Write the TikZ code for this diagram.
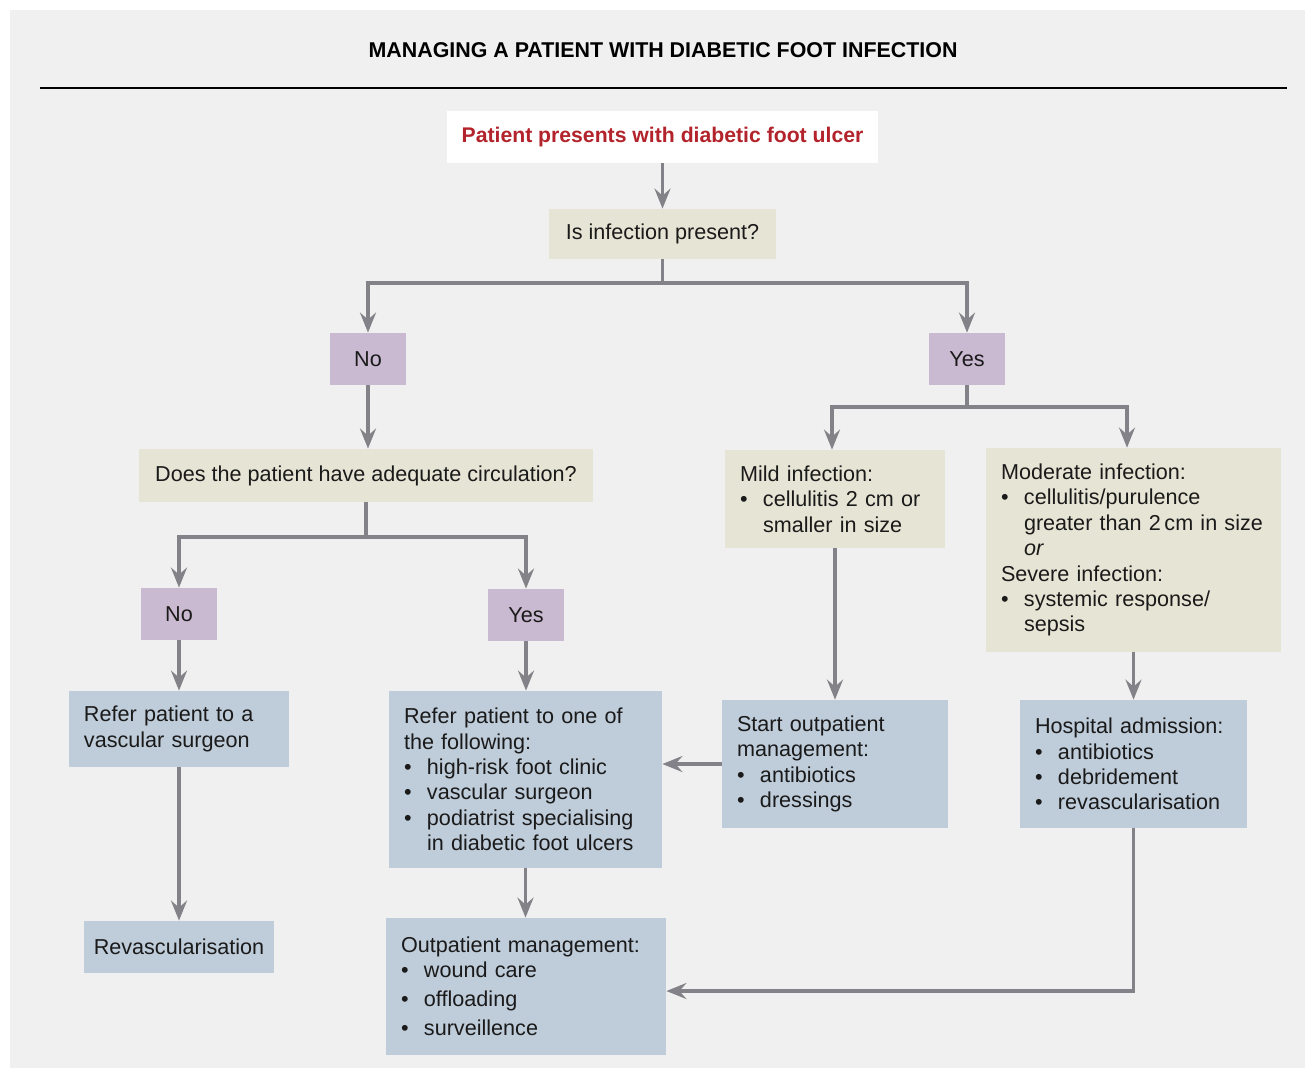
\documentclass[tikz,border=0pt]{standalone}
\usepackage{fontspec}
\setmainfont{Liberation Sans}
\usetikzlibrary{arrows.meta,positioning,calc}
\definecolor{panel}{HTML}{F0F0F0}
\definecolor{wheat}{HTML}{E6E5D5}
\definecolor{lilac}{HTML}{C9B9D1}
\definecolor{steel}{HTML}{BFCCDA}
\definecolor{flow}{HTML}{828288}
\definecolor{alert}{HTML}{B3232B}
\definecolor{ink}{HTML}{1A1A1A}
\newcommand{\itm}{\makebox[11.5bp][l]{\textbullet}}
\newcommand{\hng}{\hspace*{11.5bp}}

\begin{document}
\begin{tikzpicture}[x=0.5bp,y=-0.5bp,font=\fontsize{10.8bp}{12.7bp}\selectfont,
    base/.style={inner xsep=7.5bp,inner ysep=0pt,text=ink},
    startbox/.style={base,fill=white,minimum width=215.5bp,minimum height=26bp,
                     text=alert,font=\fontsize{10.6bp}{12.7bp}\selectfont\bfseries},
    askbox/.style={base,fill=wheat},
    ansbox/.style={base,fill=lilac,minimum width=38bp,minimum height=26bp},
    actbox/.style={base,fill=steel},
    tw/.style={text width=#1,align=left},
    line/.style={draw=flow,line width=1.6bp},
    arr/.style={line,-{Stealth[length=10bp,width=8bp,inset=3.5bp]}}]
  \useasboundingbox (0,0) rectangle (1305,1068);
  \fill[white] (0,0) rectangle (1305,1068);
  \fill[panel] (10,10) rectangle (1305,1068);

  \node[font=\fontsize{10.7bp}{12.7bp}\selectfont\bfseries,text=black] (title) at (663,50)
    {MANAGING A PATIENT WITH DIABETIC FOOT INFECTION};
  \draw[black,line width=0.6bp] (40,88) -- (1287,88);

  \node[startbox] (start) at (662.5,137) {\raisebox{-1.2bp}{Patient presents with diabetic foot ulcer}};
  \node[askbox,minimum width=113.5bp,minimum height=25bp] (infq) at (662.5,234) {Is infection present?};
  \node[ansbox] (no1) at (368,359) {No};
  \node[ansbox] (yes1) at (967,359) {Yes};
  \node[askbox,minimum width=227bp,minimum height=26.5bp] (circq) at (366,475.5)
    {Does the patient have adequate circulation?};
  \node[ansbox] (no2) at (179,614) {No};
  \node[ansbox] (yes2) at (526,615) {Yes};
  \node[actbox,tw=95bp,minimum height=38bp] (refv) at (179,729)
    {Refer patient to a\\vascular surgeon};
  \node[actbox,tw=121.5bp,minimum height=88.5bp] (refl) at (525.5,779.5)
    {Refer patient to one of\\the following:\\
     \itm high-risk foot clinic\\
     \itm vascular surgeon\\
     \itm podiatrist specialising\\
     \hng in diabetic foot ulcers};
  \node[actbox,inner xsep=2bp,minimum width=95bp,minimum height=26bp] (revasc) at (179,947) {Revascularisation};
  \node[actbox,tw=125bp,minimum height=68.5bp] (outp) at (526,986.5)
    {Outpatient management:\\
     \itm wound care\\[1.8bp]
     \itm offloading\\[1.8bp]
     \itm surveillence};
  \node[askbox,tw=95bp,minimum height=49bp] (mild) at (835,499)
    {Mild infection:\\
     \itm cellulitis 2 cm or\\
     \hng smaller in size};
  \node[askbox,tw=132.5bp,minimum height=102bp] (modr) at (1133.5,550)
    {Moderate infection:\\
     \itm cellulitis/purulence\\
     \hng greater than 2\,cm in size\\
     \hng\textit{or}\\
     Severe infection:\\
     \itm systemic response/\\
     \hng sepsis};
  \node[actbox,tw=98bp,minimum height=64bp] (soutp) at (835,764)
    {Start outpatient\\management:\\
     \itm antibiotics\\
     \itm dressings};
  \node[actbox,tw=98.5bp,minimum height=64bp] (hosp) at (1133.5,764)
    {Hospital admission:\\
     \itm antibiotics\\
     \itm debridement\\
     \itm revascularisation};

  \coordinate (j1) at (662.5,283);
  \coordinate (j2) at (366,537);
  \coordinate (j3) at (967,407);

  \draw[arr] (start) -- (infq);
  \draw[line] (infq) -- (j1);
  \draw[arr] (j1) -| (no1);
  \draw[arr] (j1) -| (yes1);
  \draw[arr] (no1.south) -- (no1.south |- circq.north);
  \draw[line] (circq) -- (j2);
  \draw[arr] (j2) -| (no2);
  \draw[arr] (j2) -| (yes2);
  \draw[arr] (no2) -- (refv);
  \draw[arr] (yes2.south) -- (yes2.south |- refl.north);
  \draw[arr] (refv) -- (revasc);
  \draw[arr] (refl.south) -- (refl.south |- outp.north);
  \draw[line] (yes1) -- (j3);
  \draw[arr] (j3) -| ([xshift=-1.5bp]mild.north);
  \draw[arr] (j3) -| ([xshift=-3.25bp]modr.north);
  \draw[arr] (mild) -- (soutp);
  \draw[arr] (modr) -- (hosp);
  \draw[arr] (soutp.west) -- (soutp.west -| refl.east);
  \draw[arr] (hosp.south) |- ($(outp.east)+(0,4.5)$);
\end{tikzpicture}
\end{document}
